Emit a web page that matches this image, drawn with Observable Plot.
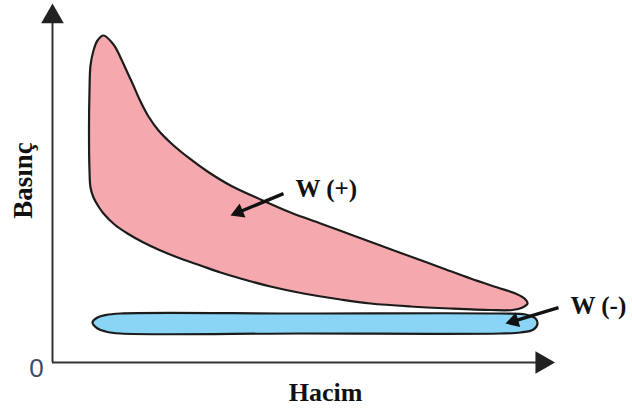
<!DOCTYPE html>
<html>
<head>
<meta charset="utf-8">
<script src="https://cdn.jsdelivr.net/npm/d3@7"></script>
<script src="https://cdn.jsdelivr.net/npm/@observablehq/plot@0.6"></script>
<style>
  html, body { margin: 0; padding: 0; background: #ffffff; }
</style>
</head>
<body>
<div id="chart"></div>
<script>
// Pressure–volume cycle: positive work loop (pink) and pumping loop (blue).
// Volume (Hacim) and pressure (Basınç) in arbitrary units, 0–100.

// Positive work loop outline, traced clockwise from the pressure peak
const loopPosV = [10.2, 12.2, 13.6, 14.8, 16.0, 17.6, 19.2, 21.2, 24.0, 27.4, 31.0, 35.6, 41.6, 47.6, 53.6, 59.6, 65.6, 71.6, 77.6, 83.6, 89.0, 92.6, 94.4, 95.0,
                  94.0, 92.0, 87.6, 79.6, 71.6, 63.6, 57.6, 50.2, 43.6, 37.6, 33.6, 29.6, 25.6, 21.6, 18.2, 15.0, 12.4, 10.2, 9.2, 8.2, 7.6, 7.4, 7.3, 7.4, 7.6, 8.2, 9.0];
const loopPosP = [92.37, 89.83, 86.16, 82.49, 78.81, 73.73, 69.49, 65.54, 61.58, 57.63, 53.95, 50.0, 46.05, 42.37, 39.27, 36.16, 33.05, 29.94, 26.84, 23.73, 21.19, 19.49, 18.08, 16.67,
                  15.54, 14.83, 14.83, 15.25, 15.82, 16.67, 17.80, 19.49, 21.47, 23.73, 25.42, 27.40, 29.38, 31.64, 33.90, 36.44, 38.98, 42.09, 44.07, 46.61, 49.44, 54.24, 65.54, 76.84, 83.90, 88.14, 90.96];

// Pumping (negative work) loop outline
const loopNegV = [8.0, 9.0, 10.6, 13.6, 49.6, 89.6, 94.6, 96.6, 97.0, 96.2, 93.6, 89.6, 49.6, 13.6, 10.6, 9.0];
const loopNegP = [11.3, 12.7, 13.4, 13.84, 13.84, 13.84, 13.56, 12.43, 11.0, 9.32, 8.47, 8.19, 8.19, 8.19, 8.76, 9.6];

// Annotation labels and their pointers (tail → tip)
const noteText = ["W (+)", "W (-)"];
const noteV = [48.6, 103.6];
const noteP = [48.9, 16.1];
const pointerFromV = [46.2, 101.2];
const pointerFromP = [47.7, 15.5];
const pointerToV = [35.6, 90.6];
const pointerToP = [41.5, 11.0];

// Axis titles
const xTitle = "Hacim";
const yTitle = "Basınç";
const originLabel = "0";

// Frame
const W = 632, H = 409;
const mLeft = 52, mRight = 80, mTop = 8, mBottom = 47;
const pxPerV = (W - mLeft - mRight) / 100;
const pxPerP = (H - mTop - mBottom) / 100;

const zip = (vs, ps) => vs.map((v, i) => ({v, p: ps[i]}));
const loopPos = zip(loopPosV, loopPosP);
const loopNeg = zip(loopNegV, loopNegP);
const notes = noteText.map((t, i) => ({t, v: noteV[i], p: noteP[i]}));

// Filled arrowheads: a triangle symbol of radius headR, turned along each pointer
const headR = 5.6;
const headTip = 2 * Math.sqrt(Math.PI * headR * headR / (3 * Math.sqrt(3))); // centre → tip, px
const pointers = noteText.map((t, i) => {
  const dx = (pointerToV[i] - pointerFromV[i]) * pxPerV;
  const dy = -(pointerToP[i] - pointerFromP[i]) * pxPerP;
  const len = Math.hypot(dx, dy);
  const ux = dx / len, uy = dy / len;
  const cv = pointerToV[i] - ux * headTip / pxPerV;
  const cp = pointerToP[i] + uy * headTip / pxPerP;
  return {
    x1: pointerFromV[i], y1: pointerFromP[i], x2: cv, y2: cp,
    angle: Math.atan2(dy, dx) * 180 / Math.PI + 90
  };
});

const serif = "'Liberation Serif', 'Times New Roman', serif";
const ink = "#1c1c1c";

const chart = Plot.plot({
  width: W,
  height: H,
  marginLeft: mLeft,
  marginRight: mRight,
  marginTop: mTop,
  marginBottom: mBottom,
  x: {domain: [0, 100], axis: null},
  y: {domain: [0, 100], axis: null},
  style: {background: "#ffffff", overflow: "visible"},
  marks: [
    // axes with filled arrowheads
    Plot.ruleY([0], {x1: 0, x2: 97, stroke: "#333333", strokeWidth: 2}),
    Plot.ruleX([0], {y1: 0, y2: 96.5, stroke: "#333333", strokeWidth: 2}),
    Plot.dot([{v: 97.9, p: 0}], {x: "v", y: "p", symbol: "triangle", r: 8.4, rotate: 90, fill: "#222222", stroke: null}),
    Plot.dot([{v: 0, p: 97.7}], {x: "v", y: "p", symbol: "triangle", r: 8.4, fill: "#222222", stroke: null}),

    // cycle loops
    Plot.line(loopNeg, {x: "v", y: "p", curve: "catmull-rom-closed", fill: "#8ad5f5", stroke: ink, strokeWidth: 2.2}),
    Plot.line(loopPos, {x: "v", y: "p", curve: "catmull-rom-closed", fill: "#f5a9ae", stroke: ink, strokeWidth: 2.2}),

    // work annotations
    Plot.link(pointers, {x1: "x1", y1: "y1", x2: "x2", y2: "y2", stroke: "#111111", strokeWidth: 3.4}),
    Plot.dot(pointers, {x: "x2", y: "y2", symbol: "triangle", r: headR, rotate: "angle", fill: "#111111", stroke: null}),
    Plot.text(notes, {x: "v", y: "p", text: "t", textAnchor: "start", fontFamily: serif, fontWeight: "bold", fontSize: 25, fill: "#111111"}),

    // axis titles and origin
    Plot.text([xTitle], {x: 54.6, y: -8.6, text: d => d, fontFamily: serif, fontWeight: "bold", fontSize: 26, fill: "#111111"}),
    Plot.text([yTitle], {x: -5.8, y: 51.4, text: d => d, rotate: -90, fontFamily: serif, fontWeight: "bold", fontSize: 27, fill: "#111111", letterSpacing: "1.2px"}),
    Plot.text([originLabel], {x: -3.2, y: -1.8, text: d => d, fontFamily: "'Liberation Sans', Arial, sans-serif", fontSize: 26, fill: "#3d4b6b"})
  ]
});

document.getElementById("chart").appendChild(chart);
</script>
</body>
</html>
